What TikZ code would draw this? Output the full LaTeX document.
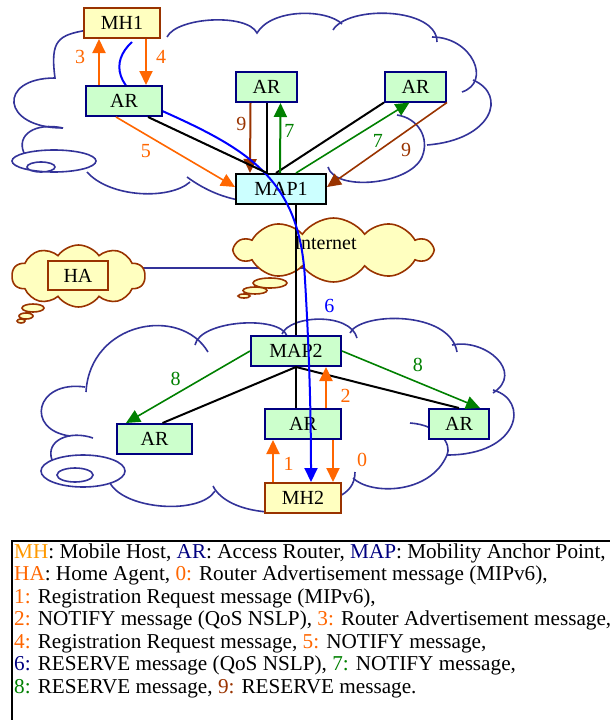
\documentclass[tikz,border=0pt]{standalone}
\usepackage{fontspec}
\setmainfont{Liberation Serif}
\usetikzlibrary{arrows.meta,shapes.symbols}

\pgfdeclarelayer{background}
\pgfsetlayers{background,main}

\definecolor{msgorange}{HTML}{FF6600}
\definecolor{mhorange}{HTML}{FF9900}
\definecolor{msgbrown}{HTML}{993300}
\definecolor{msggreen}{HTML}{008000}
\definecolor{msgblue}{HTML}{0000FF}
\definecolor{netblue}{HTML}{333399}
\definecolor{navyline}{HTML}{000080}
\definecolor{mhfill}{HTML}{FFFFC0}
\definecolor{arfill}{HTML}{CCFFCC}
\definecolor{mapfill}{HTML}{CCFFFF}

\begin{document}
\begin{tikzpicture}[x=1pt, y=1pt,
    font=\fontsize{20}{24}\selectfont,
    box/.style={draw, line width=2pt, inner sep=0pt, minimum height=30pt},
    mhbox/.style={box, draw=msgbrown, fill=mhfill, minimum width=76pt},
    arbox/.style={box, draw=navyline, fill=arfill},
    mapbox/.style={box, minimum width=90pt},
    cloudline/.style={draw=netblue, line width=1.6pt},
    thought/.style={cloud, draw=msgbrown, fill=mhfill, line width=1.6pt,
        cloud puffs=10, cloud puff arc=110, cloud ignores aspect, inner sep=0pt},
    thoughttail/.style={draw=msgbrown, fill=mhfill, line width=1.6pt},
    wire/.style={line width=2pt},
    msg/.style={line width=2pt, -{Triangle[length=14pt,width=13pt]}},
    lbl/.style={inner sep=0pt}
]
    \useasboundingbox (0,0) rectangle (610,-720);

    % Upper access network (cloud outline)
    \draw[cloudline] (63,-128) .. controls +(-62,0) and +(-58,0) .. (55,-78)
        .. controls +(-5,38) and +(-30,-5) .. (88,-30);
    \draw[cloudline] (167,-37) .. controls +(10,20) and +(-10,20) .. (257,-33)
        .. controls +(15,25) and +(-15,15) .. (342,-24);
    \draw[cloudline] (333,-30) .. controls +(15,25) and +(0,35) .. (437,-42);
    \draw[cloudline] (432,-37) .. controls +(40,0) and +(30,10) .. (462,-92);
    \draw[cloudline] (473,-80) .. controls +(35,-15) and +(65,5) .. (427,-145);
    \draw[cloudline] (397,-115) .. controls (418,-118) and (430,-138) .. (422,-157)
        .. controls (410,-185) and (335,-192) .. (328,-167);
    \draw[cloudline] (290,-196) .. controls (265,-206) and (225,-205) .. (187,-177);
    \draw[cloudline] (190,-182) .. controls (170,-200) and (110,-198) .. (87,-172);
    \draw[cloudline] (54,-161) ellipse [x radius=42, y radius=11]
        (41,-167) ellipse [x radius=14, y radius=5];
    \draw[cloudline] (24,-153) .. controls (16,-135) and (35,-122) .. (63,-128);

    % Lower access network (cloud outline)
    \draw[cloudline] (86,-392) .. controls (90,-322) and (180,-305) .. (208,-352);
    \draw[cloudline] (195,-345) .. controls (200,-320) and (280,-315) .. (287,-336);
    \draw[cloudline] (282,-334) .. controls (290,-315) and (350,-312) .. (357,-338);
    \draw[cloudline] (350,-333) .. controls (360,-312) and (450,-310) .. (457,-352);
    \draw[cloudline] (452,-345) .. controls (485,-338) and (525,-372) .. (493,-393);
    \draw[cloudline] (493,-390) .. controls (530,-400) and (520,-455) .. (447,-455);
    \draw[cloudline] (410,-423) .. controls (440,-425) and (452,-445) .. (447,-455)
        .. controls (430,-495) and (370,-495) .. (353,-478);
    \draw[cloudline] (355,-472) .. controls (355,-485) and (348,-492) .. (338,-497);
    \draw[cloudline] (268,-512) .. controls (240,-510) and (220,-500) .. (213,-486);
    \draw[cloudline] (215,-491) .. controls (200,-515) and (125,-510) .. (110,-483);
    \draw[cloudline] (83,-471) ellipse [x radius=42, y radius=16]
        (75,-475) ellipse [x radius=18, y radius=7];
    \draw[cloudline] (52,-460) .. controls (45,-440) and (70,-430) .. (93,-438);
    \draw[cloudline] (85,-387) .. controls (35,-380) and (25,-430) .. (70,-436);

    % Internet and home network
    \node[thought, minimum width=197pt, minimum height=64pt] (inet) at (333.5,-250)
        {\raisebox{14pt}{Internet}\hspace*{16pt}};
    \filldraw[thoughttail] (270,-283) ellipse [x radius=17, y radius=5]
        (255,-290.5) ellipse [x radius=12, y radius=3.5]
        (244,-296) ellipse [x radius=6, y radius=2];
    \node[thought, minimum width=133pt, minimum height=62pt] (hacloud) at (78.5,-276) {};
    \filldraw[thoughttail] (33,-308) ellipse [x radius=11, y radius=4]
        (26,-316) ellipse [x radius=7, y radius=3]
        (21,-321) ellipse [x radius=4, y radius=2];
    \node[mhbox, minimum width=60pt, minimum height=29pt] (ha) at (78,-275.5) {HA};
    \begin{pgfonlayer}{background}
        \draw[cloudline] ([yshift=8pt]hacloud.center) -- ([yshift=8pt]hacloud.center -| inet.center);
    \end{pgfonlayer}

    % Hosts, routers and anchor points
    \node[mhbox] (mh1) at (122,-23) {MH1};
    \node[arbox, minimum width=61pt] (ar2) at (266.5,-87) {AR};
    \node[arbox, minimum width=61pt] (ar3) at (415.5,-86.5) {AR};
    \node[mapbox, fill=mapfill] (map1) at (281,-189) {MAP1};
    \node[mapbox, fill=arfill, draw=navyline] (map2) at (296,-351) {MAP2};
    \node[arbox, minimum width=75pt] (ar4) at (154.5,-439) {AR};
    \node[arbox, minimum width=76pt] (ar5) at (303,-424) {AR};
    \node[arbox, minimum width=60pt] (ar6) at (459,-424) {AR};
    \node[mhbox] (mh2) at (303,-498) {MH2};

    % Upper links and messages
    \draw[wire] (ar2.south) -- (ar2.south |- map1.north);
    \draw[wire] (ar3.south west) -- ([xshift=-5pt]map1.north);
    \draw[msg, msgbrown] ([xshift=-16pt]ar2.south) -- ([xshift=-31pt]map1.north)
        node[lbl, pos=.3, xshift=-9pt] {9};
    \draw[msg, msggreen] ([xshift=-1pt]map1.north) -- ([xshift=14pt]ar2.south)
        node[lbl, pos=.6, xshift=9pt] {7};
    \draw[msg, msggreen, line width=1.6pt] ([xshift=15pt]map1.north) -- ([xshift=-6pt]ar3.south)
        node[lbl, pos=.65, xshift=8pt, yshift=-14pt] {7};
    \draw[msg, msgbrown, line width=1.6pt] (ar3.south east) -- ([yshift=2pt]map1.east)
        node[lbl, pos=.3, xshift=-5pt, yshift=-22pt] {9};

    % Core link
    \draw[wire] (map2.north |- map1.south) -- (map2.north);

    % Lower links and messages
    \draw[wire] (map2.south) -- ([xshift=8pt]ar4.north);
    \draw[wire] (map2.south) -- ([xshift=-7pt]ar5.north);
    \draw[wire] (map2.south) -- (ar6.north);
    \draw[msg, msggreen, line width=1.6pt] (map2.west) -- ([xshift=10pt]ar4.north west)
        node[lbl, pos=.6, yshift=15.5pt] {8};
    \draw[msg, msggreen, line width=1.6pt] (map2.east) -- ([xshift=21pt]ar6.north)
        node[lbl, pos=.55, yshift=17pt] {8};
    \draw[msg, msgorange] ([xshift=23pt]ar5.north) -- ([xshift=30pt]map2.south)
        node[lbl, pos=.3, xshift=19.5pt] {2};
    \draw[msg, msgorange] ([xshift=-30pt]mh2.north) -- ([xshift=-30pt]ar5.south)
        node[lbl, pos=.42, xshift=15.5pt] {1};
    \draw[msg, msgorange] ([xshift=30pt]ar5.south) -- ([xshift=30pt]mh2.north)
        node[lbl, pos=.47, xshift=29pt] {0};

    % RESERVE path from MH1 to MH2
    \draw[msg, msgblue] ([xshift=10pt, yshift=-3pt]mh1.south) .. controls (110,-62) and (115,-90) .. (160,-110)
        .. controls (250,-150) and (300,-180) .. (305,-280)
        .. controls (308,-330) and (311,-400) .. ([xshift=8pt]mh2.north)
        node[lbl, pos=.16, xshift=23pt] {6};

    % Old access router of MH1 (lies over the RESERVE path)
    \node[arbox, minimum width=76pt] (ar1) at (124,-101) {AR};
    \draw[wire] ([xshift=-15pt]ar1.south east) -- ([xshift=-14pt]map1.north);
    \draw[msg, msgorange] ([xshift=-25pt]ar1.north) -- ([xshift=-23pt]mh1.south)
        node[lbl, pos=.6, xshift=-19pt] {3};
    \draw[msg, msgorange] ([xshift=24pt]mh1.south) -- ([xshift=22pt]ar1.north)
        node[lbl, pos=.4, xshift=15pt] {4};
    \draw[msg, msgorange, line width=1.6pt] ([xshift=-8pt]ar1.south) -- ([yshift=2pt]map1.west)
        node[lbl, pos=.25, yshift=-17pt] {5};

    % Legend
    \draw[line width=2pt] (12,-725) |- (615,-541);
    \node[anchor=north west, align=left, inner sep=0pt, font=\fontsize{21.2}{22.5}\selectfont]
        (legend) at (14,-543.5) {%
        \textcolor{mhorange}{MH}: Mobile Host, \textcolor{navyline}{AR}: Access Router, \textcolor{navyline}{MAP}: Mobility Anchor Point,\\
        \textcolor{msgorange}{HA}: Home Agent, \textcolor{msgorange}{0:} Router Advertisement message (MIPv6),\\
        \textcolor{msgorange}{1:} Registration Request message (MIPv6),\\
        \textcolor{msgorange}{2:} NOTIFY message (QoS NSLP), \textcolor{msgorange}{3:} Router Advertisement message,\\
        \textcolor{msgorange}{4:} Registration Request message, \textcolor{msgorange}{5:} NOTIFY message,\\
        \textcolor{navyline}{6:} RESERVE message (QoS NSLP), \textcolor{msggreen}{7:} NOTIFY message,\\
        \textcolor{msggreen}{8:} RESERVE message, \textcolor{msgbrown}{9:} RESERVE message.};
\end{tikzpicture}
\end{document}
